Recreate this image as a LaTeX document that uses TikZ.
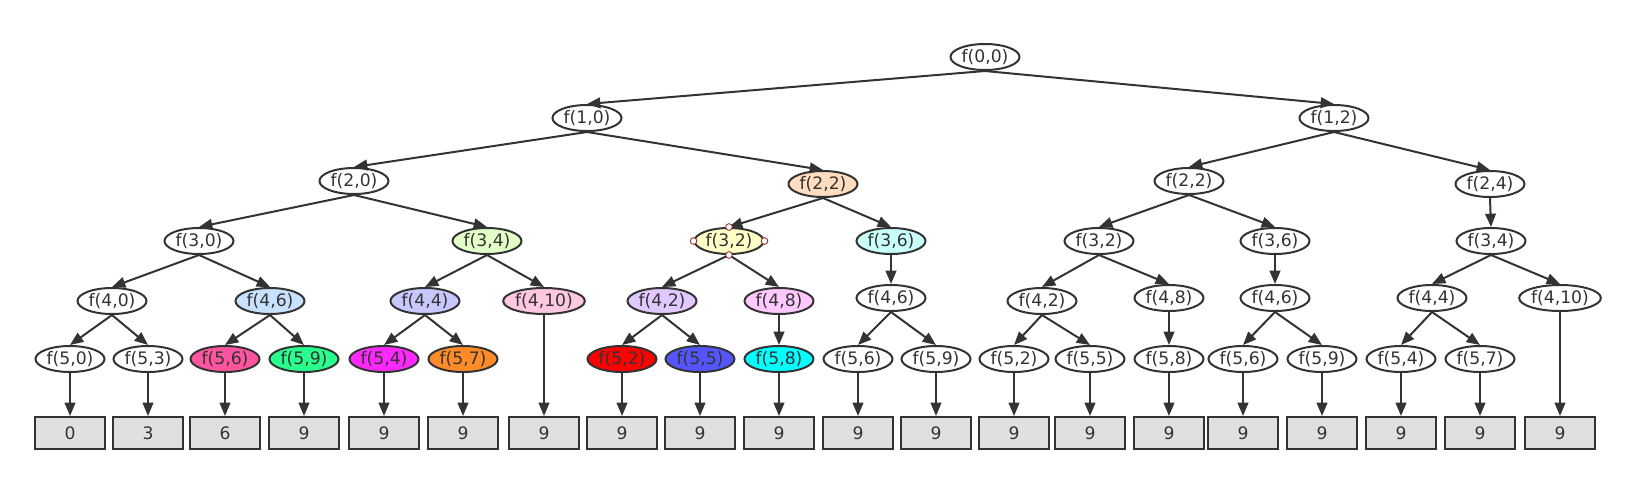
\documentclass[tikz,border=0pt]{standalone}
\usepackage{fontspec}
\setmainfont{DejaVu Sans}
\usetikzlibrary{shapes.geometric,arrows.meta}
\definecolor{ln}{RGB}{51,51,51}
\definecolor{boxg}{RGB}{224,224,224}
\definecolor{cpeach}{RGB}{255,221,192}
\definecolor{cgreenl}{RGB}{226,255,200}
\definecolor{cyell}{RGB}{255,255,200}
\definecolor{ccyanl}{RGB}{200,255,250}
\definecolor{cbluel}{RGB}{200,225,255}
\definecolor{clav}{RGB}{200,200,255}
\definecolor{cpinkl}{RGB}{255,200,225}
\definecolor{cpurl}{RGB}{225,200,255}
\definecolor{cpinkp}{RGB}{255,200,255}
\definecolor{chot}{RGB}{255,85,160}
\definecolor{cgreen}{RGB}{40,255,140}
\definecolor{cmag}{RGB}{255,40,255}
\definecolor{corange}{RGB}{255,140,40}
\definecolor{cred}{RGB}{255,0,0}
\definecolor{cblue}{RGB}{85,85,255}
\definecolor{ccyan}{RGB}{0,255,255}
\definecolor{handle}{RGB}{150,30,30}
\begin{document}
\begin{tikzpicture}[x=0.75pt,y=-0.75pt,
  every node/.style={font=\fontsize{12.9}{14}\selectfont, text=ln},
  fn/.style={ellipse, draw=ln, line width=1.5pt, fill=white, inner sep=0pt,
    minimum width=51.75pt, minimum height=19.5pt},
  res/.style={rectangle, draw=ln, line width=1.5pt, fill=boxg, inner sep=0pt,
    minimum width=53pt, minimum height=24pt},
  hd/.style={circle, draw=handle, line width=0.6pt, fill=white, inner sep=0pt, minimum size=5pt},
  ed/.style={draw=ln, line width=1.5pt, -{Triangle[length=10pt,width=8pt]}}]
\useasboundingbox (0,0) rectangle (1629,497);
% level 0
\node[fn] (n00) at (985,57) {f(0,0)};
% level 1
\node[fn] (a10) at (587,118) {f(1,0)};
\node[fn] (b12) at (1334,118) {f(1,2)};
% level 2
\node[fn] (a20) at (354,181) {f(2,0)};
\node[fn, fill=cpeach] (a22) at (823,184) {f(2,2)};
\node[fn] (b22) at (1189,181) {f(2,2)};
\node[fn] (b24) at (1490,184) {f(2,4)};
% level 3
\node[fn] (a30) at (199,241) {f(3,0)};
\node[fn, fill=cgreenl] (a34) at (487,241) {f(3,4)};
\node[fn, fill=cyell] (a32) at (729,241) {f(3,2)};
\node[fn, fill=ccyanl] (a36) at (891,241) {f(3,6)};
\node[fn] (b32) at (1099,241) {f(3,2)};
\node[fn] (b36) at (1275,241) {f(3,6)};
\node[fn] (b34) at (1491,241) {f(3,4)};
% level 4
\node[fn] (a40) at (112,301) {f(4,0)};
\node[fn, fill=cbluel] (a46) at (270,301) {f(4,6)};
\node[fn, fill=clav] (a44) at (425,301) {f(4,4)};
\node[fn, fill=cpinkl] (a410) at (544,301) {f(4,10)};
\node[fn, fill=cpurl] (a42) at (662,301) {f(4,2)};
\node[fn, fill=cpinkp] (a48) at (779,301) {f(4,8)};
\node[fn] (a46m) at (891,298) {f(4,6)};
\node[fn] (b42) at (1042,301) {f(4,2)};
\node[fn] (b48) at (1169,298) {f(4,8)};
\node[fn] (b46) at (1275,298) {f(4,6)};
\node[fn] (b44) at (1432,298) {f(4,4)};
\node[fn] (b410) at (1560,298) {f(4,10)};
% level 5
\node[fn] (c50) at (70,359) {f(5,0)};
\node[fn] (c53) at (148,359) {f(5,3)};
\node[fn, fill=chot] (c56) at (225,359) {f(5,6)};
\node[fn, fill=cgreen] (c59) at (304,359) {f(5,9)};
\node[fn, fill=cmag] (c54) at (384,359) {f(5,4)};
\node[fn, fill=corange] (c57) at (463,359) {f(5,7)};
\node[fn, fill=cred] (c52) at (622,359) {f(5,2)};
\node[fn, fill=cblue] (c55) at (700,359) {f(5,5)};
\node[fn, fill=ccyan] (c58) at (779,359) {f(5,8)};
\node[fn] (d56) at (858,359) {f(5,6)};
\node[fn] (d59) at (936,359) {f(5,9)};
\node[fn] (e52) at (1014,359) {f(5,2)};
\node[fn] (e55) at (1090,359) {f(5,5)};
\node[fn] (e58) at (1169,359) {f(5,8)};
\node[fn] (e56) at (1243,359) {f(5,6)};
\node[fn] (e59) at (1322,359) {f(5,9)};
\node[fn] (e54) at (1401,359) {f(5,4)};
\node[fn] (e57) at (1480,359) {f(5,7)};
% result boxes
\node[res] (r1) at (70,433) {0};
\node[res] (r2) at (148,433) {3};
\node[res] (r3) at (225,433) {6};
\node[res] (r4) at (304,433) {9};
\node[res] (r5) at (384,433) {9};
\node[res] (r6) at (463,433) {9};
\node[res] (r7) at (544,433) {9};
\node[res] (r8) at (622,433) {9};
\node[res] (r9) at (700,433) {9};
\node[res] (r10) at (779,433) {9};
\node[res] (r11) at (858,433) {9};
\node[res] (r12) at (936,433) {9};
\node[res] (r13) at (1014,433) {9};
\node[res] (r14) at (1090,433) {9};
\node[res] (r15) at (1169,433) {9};
\node[res] (r16) at (1243,433) {9};
\node[res] (r17) at (1322,433) {9};
\node[res] (r18) at (1401,433) {9};
\node[res] (r19) at (1480,433) {9};
\node[res] (r20) at (1560,433) {9};
% edges
\foreach \p/\c in {n00/a10,n00/b12,a10/a20,a10/a22,a20/a30,a20/a34,a30/a40,a30/a46,
  a40/c50,a40/c53,a46/c56,a46/c59,a34/a44,a34/a410,a44/c54,a44/c57,
  a22/a32,a22/a36,a32/a42,a32/a48,a42/c52,a42/c55,a48/c58,a36/a46m,a46m/d56,a46m/d59,
  b12/b22,b12/b24,b22/b32,b22/b36,b32/b42,b32/b48,b42/e52,b42/e55,b48/e58,
  b36/b46,b46/e56,b46/e59,b24/b34,b34/b44,b34/b410,b44/e54,b44/e57,
  c50/r1,c53/r2,c56/r3,c59/r4,c54/r5,c57/r6,a410/r7,c52/r8,c55/r9,c58/r10,
  d56/r11,d59/r12,e52/r13,e55/r14,e58/r15,e56/r16,e59/r17,e54/r18,e57/r19,b410/r20}
  \draw[ed] (\p.south) -- (\c.north);
% selection handles on f(3,2)
\node[hd] (h1) at (a32.north) {};
\node[hd] (h2) at (a32.south) {};
\node[hd] (h3) at (a32.east) {};
\node[hd] (h4) at (a32.west) {};
\end{tikzpicture}
\end{document}
